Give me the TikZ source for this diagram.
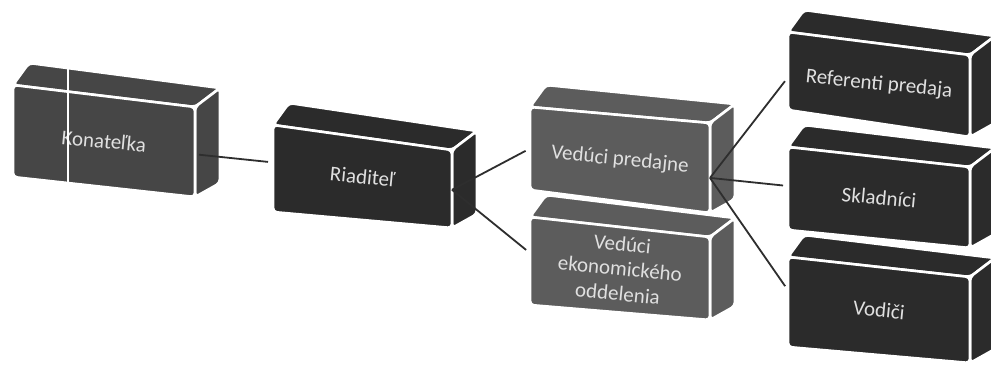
\documentclass[tikz,border=0pt]{standalone}
\usepackage{fontspec}
\setmainfont{Carlito}
\usetikzlibrary{calc}
\definecolor{cK}{HTML}{464646}
\definecolor{cD}{HTML}{2B2B2B}
\definecolor{cL}{HTML}{5C5C5C}
\definecolor{txt}{HTML}{E0E0E0}
\definecolor{lnk}{HTML}{2E2E2E}
\tikzset{
  face/.style={draw=white, line width=2.6pt, rounded corners=4pt, line join=round},
  lbl/.style={text=txt, font=\fontsize{21}{25}\selectfont, align=center, inner sep=0pt, rotate=-5.5},
  link/.style={draw=lnk, line width=1.8pt, shorten >=5pt}
}
% #1 name, #2 x left, #3 x right, #4 y top-left, #5 y top-right, #6 y bottom-left, #7 y bottom-right, #8 colour, #9 text
\newcommand\cubebox[9]{%
  \coordinate (#1A) at (#2,#4);
  \coordinate (#1B) at (#3,#5);
  \coordinate (#1C) at (#3,#7);
  \coordinate (#1D) at (#2,#6);
  \fill[face, fill=#8] ($(#1A)+(16,-22)$) -- ($(#1B)+(25,-19)$) -- (#1B) -- (#1A) -- cycle;
  \fill[face, fill=#8] (#1B) -- ($(#1B)+(25,-19)$) -- ($(#1C)+(25,-14)$) -- (#1C) -- cycle;
  \filldraw[face, fill=#8] (#1A) -- (#1B) -- (#1C) -- (#1D) -- cycle;
  \node[lbl] (#1) at ($(#1A)!0.5!(#1C)$) {#9};
}
\begin{document}
\begin{tikzpicture}[x=1pt, y=-1pt]
\useasboundingbox[fill=white] (0,0) rectangle (991,367);
\cubebox{K}{13}{195}{85}{107}{177}{197}{cK}{Konateľka}
\draw[white, line width=1.2pt] (68,60) -- (68,185);
\cubebox{R}{273}{452}{125}{150}{212}{228}{cD}{Riaditeľ}
\cubebox{VP}{530}{710}{107}{123}{190}{213}{cL}{Vedúci predajne}
\cubebox{VE}{530}{710}{217}{237}{305}{320}{cL}{Vedúci\\ekonomického\\oddelenia}
\cubebox{RP}{788}{970}{32}{55}{110}{137}{cD}{Referenti predaja}
\cubebox{S}{788}{970}{147}{167}{230}{248}{cD}{Skladníci}
\cubebox{V}{788}{970}{257}{277}{347}{363}{cD}{Vodiči}
% connector ends
\coordinate (Kout) at ($(KB)!0.53!(KC)+(4,0)$);
\coordinate (Rin) at ($(RA)!0.43!(RD)$);
\coordinate (Rout) at ($(RB)!0.51!(RC)$);
\coordinate (VPin) at ($(VPA)!0.5!(VPD)$);
\coordinate (VEin) at ($(VEA)!0.41!(VED)$);
\coordinate (VPout) at ($(VPB)!0.61!(VPC)$);
\coordinate (RPin) at ($(RPA)!0.58!(RPD)$);
\coordinate (Sin) at ($(SA)!0.47!(SD)$);
\coordinate (Vin) at ($(VA)!0.37!(VD)$);
\draw[link] (Kout) -- (Rin);
\draw[link] (Rout) -- (VPin);
\draw[link] (Rout) -- (VEin);
\draw[link] (VPout) -- (RPin);
\draw[link] (VPout) -- (Sin);
\draw[link] (VPout) -- (Vin);
\end{tikzpicture}
\end{document}
